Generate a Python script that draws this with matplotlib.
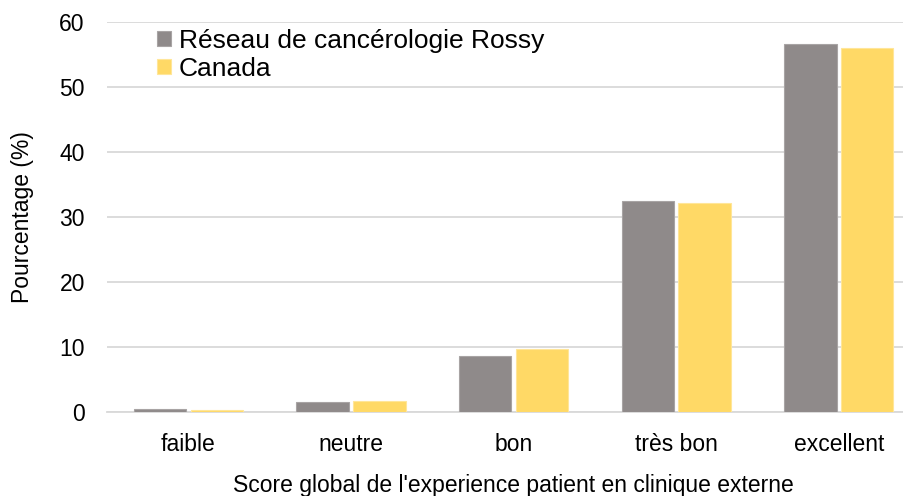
import numpy as np
import matplotlib.pyplot as plt

plt.rcParams['font.family'] = ['Liberation Sans', 'DejaVu Sans']

categories = ['faible', 'neutre', 'bon', 'très bon', 'excellent']
rossy = [0.5, 1.5, 8.6, 32.5, 56.7]
canada = [0.3, 1.7, 9.7, 32.2, 56.0]
series_names = ['Réseau de cancérologie Rossy', 'Canada']

fig = plt.figure(figsize=(9.04, 4.96), dpi=100)
# plot area runs a bit past the right edge, like the cropped original
ax = fig.add_axes([0.1184, 0.1694, 0.8994, 0.7857])

x = np.arange(len(categories))
w = 0.322
gap = 0.027
ax.bar(x - (w + gap) / 2, rossy, w, color='#8F8A8A', edgecolor='#A8A4A4',
       linewidth=0.8, label=series_names[0], zorder=3)
ax.bar(x + (w + gap) / 2, canada, w, color='#FFD966', edgecolor='#FFE699',
       linewidth=0.8, label=series_names[1], zorder=3)

ax.set_xlim(-0.5, len(categories) - 0.5)
ax.set_ylim(0, 60)
ax.set_yticks(range(0, 61, 10))
ax.set_xticks(x)
ax.set_xticklabels(categories)
ax.yaxis.grid(True, color='#D9D9D9', linewidth=1.3, zorder=0)
ax.set_axisbelow(True)
for s in ['top', 'right', 'left']:
    ax.spines[s].set_visible(False)
ax.spines['bottom'].set_color('#D9D9D9')
ax.spines['bottom'].set_linewidth(1.3)
ax.tick_params(axis='y', length=0, labelsize=16.5, pad=16)
ax.tick_params(axis='x', length=0, labelsize=16.5, pad=15)

ax.set_ylabel('Pourcentage (%)', fontsize=16.5, labelpad=18)
ax.set_xlabel("Score global de l'experience patient en clinique externe", fontsize=16.5, labelpad=13)

ax.legend(loc='upper left', bbox_to_anchor=(0.049, 1.01), frameon=False, fontsize=19,
          handlelength=0.52, handleheight=0.52, handletextpad=0.3, labelspacing=0.15,
          borderaxespad=0)

fig.savefig('out.png', dpi=100)
